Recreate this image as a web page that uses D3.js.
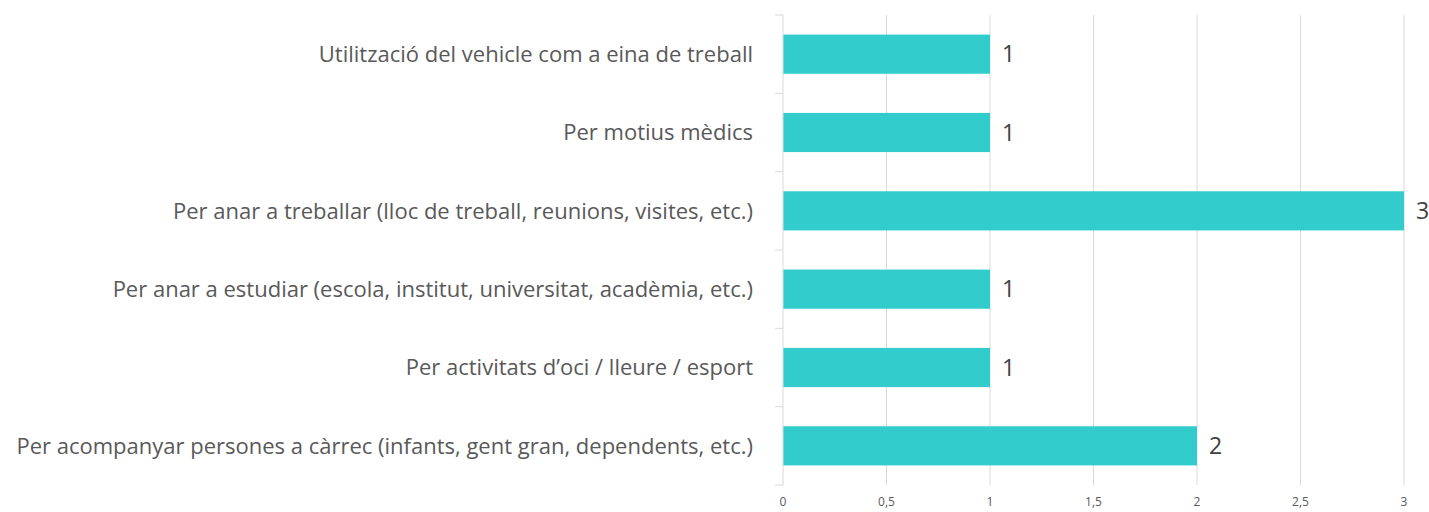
<!DOCTYPE html>
<html>
<head>
<meta charset="utf-8">
<script src="https://cdn.jsdelivr.net/npm/d3@7"></script>
<style>
  body { margin: 0; background: #fff; }
  text { font-family: "Open Sans", sans-serif; }
</style>
</head>
<body>
<svg id="chart"></svg>
<script>
const categories = [
    "Utilització del vehicle com a eina de treball",
    "Per motius mèdics",
    "Per anar a treballar (lloc de treball, reunions, visites, etc.)",
    "Per anar a estudiar (escola, institut, universitat, acadèmia, etc.)",
    "Per activitats d’oci / lleure / esport",
    "Per acompanyar persones a càrrec (infants, gent gran, dependents, etc.)"
];
const values = [1, 1, 3, 1, 1, 2];
const xTicks = [0, 0.5, 1, 1.5, 2, 2.5, 3];

const width = 1429, height = 512;
const margin = { top: 15, right: 25, bottom: 27, left: 783 };
const innerW = width - margin.left - margin.right;
const innerH = height - margin.top - margin.bottom;

const svg = d3.select("#chart").attr("width", width).attr("height", height);
const g = svg.append("g").attr("transform", `translate(${margin.left}, ${margin.top})`);

const x = d3.scaleLinear().domain([0, 3]).range([0, innerW]);
const y = d3.scaleBand().domain(categories).range([0, innerH]).paddingInner(0.5).paddingOuter(0.25);
const band = d3.scaleBand().domain(categories).range([0, innerH]);

// gridlines
g.append("g")
    .selectAll("line")
    .data(xTicks.slice(1))
    .join("line")
    .attr("x1", d => x(d)).attr("x2", d => x(d))
    .attr("y1", 0).attr("y2", innerH)
    .attr("stroke", "#d9d9d9").attr("stroke-width", 1);

// x tick labels
g.append("g")
    .selectAll("text")
    .data(xTicks)
    .join("text")
    .attr("x", d => x(d))
    .attr("y", innerH + 21)
    .attr("text-anchor", "middle")
    .attr("fill", "#595959")
    .style("font-size", "12px")
    .text(d => d3.format(".1~f")(d).replace(".", ","));

// bars
g.append("g")
    .selectAll("rect")
    .data(values)
    .join("rect")
    .attr("x", 0)
    .attr("y", (d, i) => y(categories[i]))
    .attr("width", d => x(d))
    .attr("height", y.bandwidth())
    .attr("fill", "#33cccc");

// value labels
g.append("g")
    .selectAll("text")
    .data(values)
    .join("text")
    .attr("x", d => x(d) + 12)
    .attr("y", (d, i) => y(categories[i]) + y.bandwidth() / 2)
    .attr("dy", "0.36em")
    .attr("fill", "#404040")
    .style("font-size", "23px")
    .text(d => d);

// left axis with ticks at band boundaries
const axis = g.append("g");
axis.append("line")
    .attr("x1", 0).attr("x2", 0).attr("y1", 0).attr("y2", innerH)
    .attr("stroke", "#d9d9d9");
axis.selectAll("line.tick")
    .data(categories.concat(["__end"]))
    .join("line")
    .attr("class", "tick")
    .attr("x1", -8).attr("x2", 0)
    .attr("y1", (d, i) => i * band.step())
    .attr("y2", (d, i) => i * band.step())
    .attr("stroke", "#d9d9d9");

axis.selectAll("text")
    .data(categories)
    .join("text")
    .attr("x", -30)
    .attr("y", d => band(d) + band.bandwidth() / 2)
    .attr("dy", "0.36em")
    .attr("text-anchor", "end")
    .attr("fill", "#595959")
    .style("font-size", "22px")
    .text(d => d);
</script>
</body>
</html>
